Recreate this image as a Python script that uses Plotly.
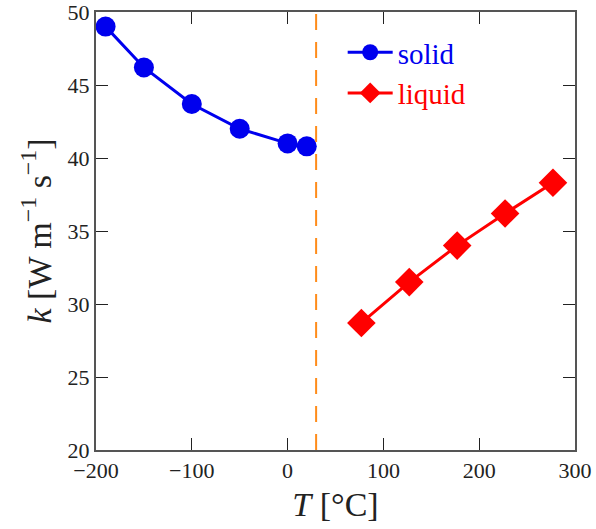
import plotly.graph_objects as go

solid_T = [-190, -150, -100, -50, 0, 20]
solid_k = [49.0, 46.2, 43.7, 42.0, 41.0, 40.8]
liquid_T = [77, 127, 177, 227, 277]
liquid_k = [28.7, 31.5, 34.0, 36.2, 38.3]
melt_T = 29.76

x_ticks = [-200, -100, 0, 100, 200, 300]
x_labels = ["−200", "−100", "0", "100", "200", "300"]
y_ticks = [20, 25, 30, 35, 40, 45, 50]

font = "Liberation Serif"

fig = go.Figure()
fig.add_trace(go.Scatter(x=solid_T, y=solid_k, mode="lines+markers",
                         name="<span style='color:#0000ee'>solid</span>",
                         line=dict(color="#0000ee", width=3),
                         marker=dict(symbol="circle", size=20, color="#0000ee")))
fig.add_trace(go.Scatter(x=liquid_T, y=liquid_k, mode="lines+markers",
                         name="<span style='color:#ff0000'>liquid</span>",
                         line=dict(color="#ff0000", width=3),
                         marker=dict(symbol="diamond", size=22, color="#ff0000")))
fig.add_vline(x=melt_T, line=dict(color="#ff8c1a", width=2, dash="16px,12px"))

axis_common = dict(showline=True, linecolor="#555", linewidth=2, mirror="ticks",
                   ticks="inside", ticklen=12, tickwidth=1.2, tickcolor="#222",
                   showgrid=False, zeroline=False, automargin=False,
                   ticklabeloverflow="allow",
                   tickfont=dict(family=font, size=22, color="#222"))

fig.update_xaxes(range=[-200, 300], tickvals=x_ticks, ticktext=x_labels,
                 title=dict(text="<i>T</i> [°C]", font=dict(family=font, size=34, color="#222"), standoff=10),
                 **axis_common)
fig.update_yaxes(range=[20, 50], tickvals=y_ticks,
                 title=dict(text="<i>k</i> [W m<sup>−1</sup> s<sup>−1</sup>]", font=dict(family=font, size=34, color="#222"), standoff=6),
                 **axis_common)

fig.update_layout(width=596, height=529, margin=dict(l=96, r=21, t=12, b=79),
                  plot_bgcolor="white", paper_bgcolor="white",
                  legend=dict(x=0.515, y=0.966, xanchor="left", yanchor="top",
                              bgcolor="rgba(0,0,0,0)", font=dict(family=font, size=29),
                              itemwidth=45, tracegroupgap=0),
                  showlegend=True)

fig.write_html("out.html", config={"displayModeBar": False},
               post_script="document.body.style.margin='0';")
